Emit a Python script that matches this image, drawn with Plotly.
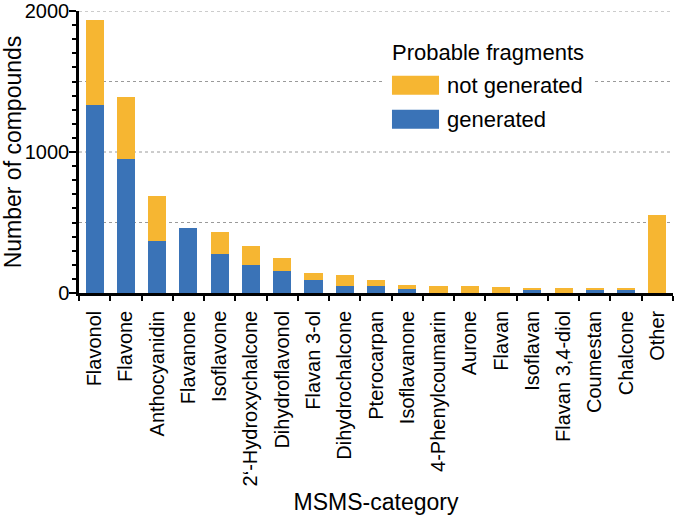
import plotly.graph_objects as go

categories = ["Flavonol", "Flavone", "Anthocyanidin", "Flavanone", "Isoflavone",
              "2‘-Hydroxychalcone", "Dihydroflavonol", "Flavan 3-ol", "Dihydrochalcone",
              "Pterocarpan", "Isoflavanone", "4-Phenylcoumarin", "Aurone", "Flavan",
              "Isoflavan", "Flavan 3,4-diol", "Coumestan", "Chalcone", "Other"]
generated = [1332, 953, 367, 460, 277, 199, 154, 90, 53, 49, 30, 0, 0, 0, 19, 0, 18, 22, 0]
not_generated = [606, 438, 318, 0, 159, 133, 95, 52, 77, 46, 26, 47, 47, 41, 20, 39, 18, 11, 550]

y_ticks = [0, 1000, 2000]
grid_values = [500, 1000, 1500, 2000]

BLUE = "#3A73B7"
YELLOW = "#F6B632"
FONT = "Arial, Liberation Sans, Helvetica, sans-serif"

fig = go.Figure()
fig.add_trace(go.Bar(x=categories, y=generated, name="generated",
                     marker=dict(color=BLUE, line=dict(width=0))))
fig.add_trace(go.Bar(x=categories, y=not_generated, name="not generated",
                     marker=dict(color=YELLOW, line=dict(width=0))))

shapes = []
for g in grid_values:
    shapes.append(dict(type="line", xref="paper", yref="y", x0=0, x1=1, y0=g, y1=g,
                       line=dict(color="#9a9a9a", width=1, dash="dot"), layer="below"))
# legend box
shapes.append(dict(type="rect", xref="paper", yref="paper", x0=0.5118, x1=0.8636,
                   y0=0.5436, y1=0.9337, fillcolor="white", line=dict(width=0), layer="below"))
shapes.append(dict(type="rect", xref="paper", yref="paper", x0=0.5269, x1=0.6061,
                   y0=0.7032, y1=0.7706, fillcolor=YELLOW, line=dict(width=0), layer="above"))
shapes.append(dict(type="rect", xref="paper", yref="paper", x0=0.5269, x1=0.6061,
                   y0=0.5826, y1=0.650, fillcolor=BLUE, line=dict(width=0), layer="above"))

annotations = [
    dict(text="Probable fragments", xref="paper", yref="paper", x=0.5235, y=0.854,
         xanchor="left", yanchor="middle", showarrow=False, font=dict(size=22, color="black")),
    dict(text="not generated", xref="paper", yref="paper", x=0.6160, y=0.737,
         xanchor="left", yanchor="middle", showarrow=False, font=dict(size=22, color="black")),
    dict(text="generated", xref="paper", yref="paper", x=0.6160, y=0.616,
         xanchor="left", yanchor="middle", showarrow=False, font=dict(size=22, color="black")),
]

fig.update_layout(
    width=675, height=518,
    margin=dict(l=79, r=2, t=11, b=225),
    barmode="stack", bargap=0.42,
    plot_bgcolor="white", paper_bgcolor="white",
    font=dict(family=FONT, color="black"),
    showlegend=False,
    shapes=shapes, annotations=annotations,
    xaxis=dict(
        type="category", range=[-0.5, 18.5], automargin=False,
        showline=True, linecolor="black", linewidth=2.5,
        ticks="outside", tickson="boundaries", ticklen=5, tickwidth=2, tickcolor="black",
        tickangle=-90, tickfont=dict(size=20), ticklabelstandoff=7,
        showgrid=False,
        title=dict(text="MSMS-category", font=dict(size=23), standoff=9),
    ),
    yaxis=dict(
        range=[0, 2000], tickvals=y_ticks, ticktext=[str(v) for v in y_ticks], automargin=False,
        showline=True, linecolor="black", linewidth=2.5,
        ticks="outside", ticklen=7, tickwidth=2, tickcolor="black",
        tickfont=dict(size=20), ticklabelstandoff=-4, showgrid=False, zeroline=False,
        minor=dict(dtick=100, ticks="outside", ticklen=4, tickwidth=1.5, tickcolor="black", showgrid=False),
        title=dict(text="Number of compounds", font=dict(size=23), standoff=0),
    ),
)

fig.write_html("out.html", config={"displayModeBar": False},
               post_script="document.body.style.margin='0';")
